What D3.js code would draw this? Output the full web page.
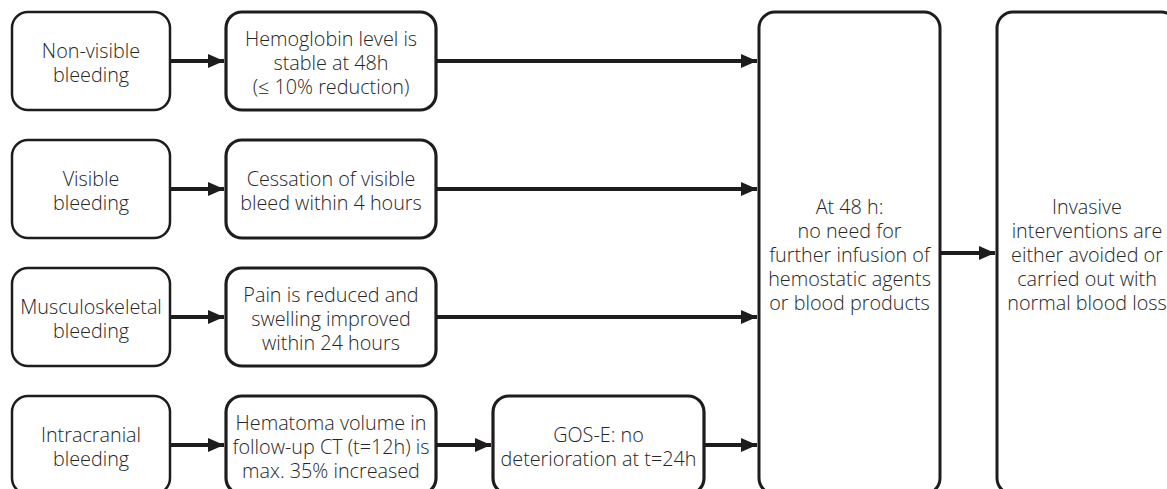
<!DOCTYPE html>
<html>
<head>
<meta charset="utf-8">
<script src="https://cdn.jsdelivr.net/npm/d3@7"></script>
<style>
  html, body { margin: 0; padding: 0; background: #fff; }
  svg { display: block; }
  text { font-family: "Open Sans", "Noto Sans", sans-serif; fill: #262626; font-weight: 350; }
</style>
</head>
<body>
<svg id="chart" width="1167" height="489"></svg>
<script>
// ---- content ----
const bleedingTypes = [
  ["Non-visible", "bleeding"],
  ["Visible", "bleeding"],
  ["Musculoskeletal", "bleeding"],
  ["Intracranial", "bleeding"]
];
const criteria = [
  ["Hemoglobin level is", "stable at 48h", "(\u2264 10% reduction)"],
  ["Cessation of visible", "bleed within 4 hours"],
  ["Pain is reduced and", "swelling improved", "within 24 hours"],
  ["Hematoma volume in", "follow-up CT (t=12h) is", "max. 35% increased"]
];
const extraCriteria = [null, null, null, ["GOS-E: no", "deterioration at t=24h"]];
const outcome48 = ["At 48 h:", "no need for", "further infusion of", "hemostatic agents", "or blood products"];
const finalOutcome = ["Invasive", "interventions are", "either avoided or", "carried out with", "normal blood loss"];

// ---- layout ----
const svg = d3.select("#chart");
const ink = "#1e1c1d";

const y = d3.scaleBand().domain(d3.range(bleedingTypes.length))
  .range([12, 494]).paddingInner(0.2344).paddingOuter(0);

const cols = {
  c1: [12, 170],
  c2: [226, 436],
  c3: [493, 704],
  big1: [759, 940],
  big2: [997, 1177]
};
const fs = 19.8, lh = 24, radius = 16;

const defs = svg.append("defs");
defs.append("marker")
  .attr("id", "ah").attr("viewBox", "0 0 16 14")
  .attr("refX", 16).attr("refY", 7)
  .attr("markerWidth", 16).attr("markerHeight", 14)
  .attr("markerUnits", "userSpaceOnUse")
  .attr("orient", "auto")
  .append("path").attr("d", "M0,0 L16,7 L0,14 Z").attr("fill", ink);

function box(x0, x1, y0, y1, lines, sw, cx) {
  svg.append("rect")
    .attr("x", x0).attr("y", y0)
    .attr("width", x1 - x0).attr("height", y1 - y0)
    .attr("rx", radius).attr("ry", radius)
    .attr("fill", "#fff").attr("stroke", ink).attr("stroke-width", sw);
  const cy = (y0 + y1) / 2;
  const t = svg.append("text")
    .attr("text-anchor", "middle")
    .attr("font-size", fs);
  const n = lines.length;
  lines.forEach((l, i) => {
    t.append("tspan")
      .attr("x", cx !== undefined ? cx : (x0 + x1) / 2)
      .attr("y", cy + (i - (n - 1) / 2) * lh)
      .attr("dy", "0.45em")
      .text(l);
  });
}
function arrow(x0, x1, yy) {
  svg.append("line")
    .attr("x1", x0).attr("x2", x1 - 2)
    .attr("y1", yy).attr("y2", yy)
    .attr("stroke", ink).attr("stroke-width", 4)
    .attr("marker-end", "url(#ah)");
}

// big boxes
box(cols.big1[0], cols.big1[1], 12, 494, outcome48, 3);
box(cols.big2[0], cols.big2[1], 12, 494, finalOutcome, 3, 1087);
arrow(cols.big1[1], cols.big2[0], 253);

bleedingTypes.forEach((b, i) => {
  const y0 = y(i), y1 = y(i) + y.bandwidth(), cy = (y0 + y1) / 2;
  box(cols.c1[0], cols.c1[1], y0, y1, b, 2.5);
  box(cols.c2[0], cols.c2[1], y0, y1, criteria[i], 3.2);
  arrow(cols.c1[1], cols.c2[0], cy);
  if (extraCriteria[i]) {
    box(cols.c3[0], cols.c3[1], y0, y1, extraCriteria[i], 3.2);
    arrow(cols.c2[1], cols.c3[0], cy);
    arrow(cols.c3[1], cols.big1[0], cy);
  } else {
    arrow(cols.c2[1], cols.big1[0], cy);
  }
});
</script>
</body>
</html>
